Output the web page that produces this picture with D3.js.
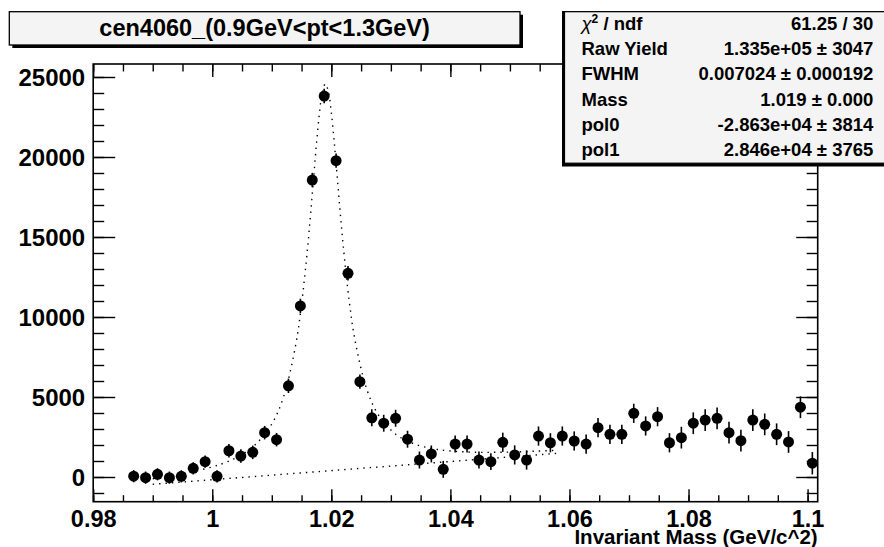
<!DOCTYPE html>
<html>
<head>
<meta charset="utf-8">
<script src="https://cdn.jsdelivr.net/npm/d3@7"></script>
<style>
body { margin: 0; background: #fff; }
text { font-family: "Liberation Sans", Arial, Helvetica, sans-serif; font-weight: bold; fill: #000; }
</style>
</head>
<body>
<script>
// histogram points (bin centre, counts, error)
var mass = [0.9868, 0.9888, 0.9908, 0.9928, 0.9948, 0.9968, 0.9988, 1.0008, 1.0028, 1.0048,
  1.0068, 1.0088, 1.0108, 1.0128, 1.0148, 1.0168, 1.0188, 1.0208, 1.0228, 1.0248,
  1.0268, 1.0288, 1.0308, 1.0328, 1.0348, 1.0368, 1.0388, 1.0408, 1.0428, 1.0448,
  1.0468, 1.0488, 1.0508, 1.0528, 1.0548, 1.0568, 1.0588, 1.0608, 1.0628, 1.0648,
  1.0668, 1.0688, 1.0708, 1.0728, 1.0748, 1.0768, 1.0788, 1.0808, 1.0828, 1.0848,
  1.0868, 1.0888, 1.0908, 1.0928, 1.0948, 1.0968, 1.0988, 1.1008];
var counts = [50, -40, 170, -40, 40, 540, 960, 40, 1640, 1310,
  1540, 2770, 2330, 5700, 10690, 18560, 23810, 19770, 12730, 5960,
  3700, 3360, 3670, 2360, 1060, 1440, 480, 2060, 2060, 1060,
  960, 2170, 1380, 1060, 2560, 2140, 2560, 2250, 2060, 3080,
  2670, 2670, 3980, 3190, 3770, 2140, 2460, 3360, 3560, 3670,
  2770, 2270, 3560, 3290, 2670, 2190, 4360, 860];
var errs = [380, 380, 380, 380, 380, 380, 380, 380, 420, 420,
  420, 420, 420, 450, 450, 450, 450, 450, 450, 450,
  530, 530, 530, 530, 530, 530, 530, 530, 530, 530,
  530, 600, 600, 600, 600, 600, 600, 600, 600, 600,
  600, 600, 600, 600, 600, 600, 680, 680, 680, 680,
  680, 680, 680, 680, 680, 680, 680, 700];

// fit curve
var fitMass = [0.990, 0.995, 1.000, 1.002, 1.004, 1.007, 1.010, 1.012, 1.014, 1.015,
  1.016, 1.0165, 1.017, 1.0175, 1.018, 1.0185, 1.019, 1.0195, 1.020, 1.0205,
  1.021, 1.0215, 1.022, 1.023, 1.024, 1.026, 1.028, 1.031, 1.034, 1.038,
  1.043, 1.048, 1.054, 1.058];
var fitTotal = [-106, 195, 630, 878, 1202, 1939, 3313, 5038, 8224, 10792,
  14276, 16361, 18587, 20794, 22727, 24076, 24571, 24104, 22784, 20879,
  18701, 16503, 14447, 11020, 8509, 5437, 3825, 2621, 2056, 1711,
  1561, 1546, 1608, 1675];
var bkgMass = [0.990, 1.058];
var bkgVals = [-455, 1481];

var xTicks = [0.98, 1, 1.02, 1.04, 1.06, 1.08, 1.1];
var xTickLabels = ["0.98", "1", "1.02", "1.04", "1.06", "1.08", "1.1"];
var yTicks = [0, 5000, 10000, 15000, 20000, 25000];

var title = "cen4060_(0.9GeV<pt<1.3GeV)";
var xTitle = "Invariant Mass (GeV/c^2)";
var statNames = ["χ2 / ndf", "Raw Yield", "FWHM", "Mass", "pol0", "pol1"];
var statValues = ["61.25 / 30", "1.335e+05 ± 3047", "0.007024 ± 0.000192",
  "1.019 ± 0.000", "-2.863e+04 ± 3814", "2.846e+04 ± 3765"];

var W = 884, H = 547;
var frameL = 93.2, frameR = 817.7, frameT = 64, frameB = 501.7;

var x = d3.scaleLinear().domain([0.98, 1.1017]).range([frameL, frameR]);
var y = d3.scaleLinear().domain([-1544, 25812]).range([frameB, frameT]);

var svg = d3.select("body").append("svg")
  .attr("width", W)
  .attr("height", H);

// frame
svg.append("rect")
  .attr("x", frameL).attr("y", frameT)
  .attr("width", frameR - frameL).attr("height", frameB - frameT)
  .attr("fill", "none").attr("stroke", "#000").attr("stroke-width", 1.6);

var xMinor = d3.range(0.98, 1.1017, 0.005);
var yMinor = d3.range(-1000, 25812, 1000);

function styleAxis(g) {
  g.select(".domain").remove();
  g.selectAll("line").attr("stroke", "#000").attr("stroke-width", 1.4);
}

// bottom axis
svg.append("g").attr("transform", "translate(0," + frameB + ")")
  .call(d3.axisBottom(x).tickValues(xMinor).tickFormat("").tickSize(-6.5))
  .call(styleAxis);
svg.append("g").attr("transform", "translate(0," + frameB + ")")
  .call(d3.axisBottom(x).tickValues(xTicks).tickSize(-12.5).tickPadding(8)
    .tickFormat(function(d, i) { return xTickLabels[i]; }))
  .call(styleAxis)
  .call(function(g) {
    g.selectAll("text").attr("font-size", 23.5).attr("dy", null).attr("y", 25.5);
  });

// top axis
svg.append("g").attr("transform", "translate(0," + frameT + ")")
  .call(d3.axisTop(x).tickValues(xMinor).tickFormat("").tickSize(-7.5))
  .call(styleAxis);
svg.append("g").attr("transform", "translate(0," + frameT + ")")
  .call(d3.axisTop(x).tickValues(xTicks).tickFormat("").tickSize(-13))
  .call(styleAxis);

// left axis
svg.append("g").attr("transform", "translate(" + frameL + ",0)")
  .call(d3.axisLeft(y).tickValues(yMinor).tickFormat("").tickSize(-11))
  .call(styleAxis);
svg.append("g").attr("transform", "translate(" + frameL + ",0)")
  .call(d3.axisLeft(y).tickValues(yTicks).tickSize(-22).tickPadding(8)
    .tickFormat(d3.format("d")))
  .call(styleAxis)
  .call(function(g) {
    g.selectAll("text").attr("font-size", 24).attr("x", -8).attr("dy", "0.36em");
  });

// right axis
svg.append("g").attr("transform", "translate(" + frameR + ",0)")
  .call(d3.axisRight(y).tickValues(yMinor).tickFormat("").tickSize(-11))
  .call(styleAxis);
svg.append("g").attr("transform", "translate(" + frameR + ",0)")
  .call(d3.axisRight(y).tickValues(yTicks).tickFormat("").tickSize(-21.5))
  .call(styleAxis);

// x axis title
svg.append("text")
  .attr("x", frameR).attr("y", 543.5)
  .attr("text-anchor", "end")
  .attr("font-size", 20.5)
  .text(xTitle);

// fit curves (dotted)
var line = d3.line()
  .x(function(d) { return x(d[0]); })
  .y(function(d) { return y(d[1]); })
  .curve(d3.curveCatmullRom);

svg.append("path")
  .datum(bkgMass.map(function(m, i) { return [m, bkgVals[i]]; }))
  .attr("d", line)
  .attr("fill", "none").attr("stroke", "#000")
  .attr("stroke-width", 1.4).attr("stroke-dasharray", "1.4,5");

svg.append("path")
  .datum(fitMass.map(function(m, i) { return [m, fitTotal[i]]; }))
  .attr("d", line)
  .attr("fill", "none").attr("stroke", "#000")
  .attr("stroke-width", 1.4).attr("stroke-dasharray", "1.4,5");

// data points with error bars
var pts = svg.append("g").selectAll("g")
  .data(mass.map(function(m, i) { return { m: m, c: counts[i], e: errs[i] }; }))
  .enter().append("g");

pts.append("line")
  .attr("x1", function(d) { return x(d.m); })
  .attr("x2", function(d) { return x(d.m); })
  .attr("y1", function(d) { return y(d.c - d.e); })
  .attr("y2", function(d) { return y(d.c + d.e); })
  .attr("stroke", "#000").attr("stroke-width", 1.6);

pts.append("circle")
  .attr("cx", function(d) { return x(d.m); })
  .attr("cy", function(d) { return y(d.c); })
  .attr("r", 5.5)
  .attr("fill", "#000");

// title box
svg.append("rect")
  .attr("x", 12.3).attr("y", 14.7).attr("width", 510.7).attr("height", 33.3)
  .attr("fill", "#000");
svg.append("rect")
  .attr("x", 9.3).attr("y", 11.7).attr("width", 510.7).attr("height", 33.3)
  .attr("fill", "#f4f4f4").attr("stroke", "#000").attr("stroke-width", 1.3);
svg.append("text")
  .attr("x", 264.6).attr("y", 36)
  .attr("text-anchor", "middle")
  .attr("font-size", 23.5)
  .text(title);

// stats box
svg.append("rect")
  .attr("x", 562).attr("y", 11).attr("width", 340).attr("height", 155.5)
  .attr("fill", "#000");
svg.append("rect")
  .attr("x", 564.5).attr("y", 11.7).attr("width", 340).attr("height", 151.5)
  .attr("fill", "#f4f4f4").attr("stroke", "#000").attr("stroke-width", 1.2);

var rows = svg.append("g").selectAll("g")
  .data(statNames)
  .enter().append("g")
  .attr("transform", function(d, i) { return "translate(0," + (30 + 25.2 * i) + ")"; });

rows.append("text")
  .attr("x", 581.5)
  .attr("font-size", 18.5)
  .each(function(d) {
    var t = d3.select(this);
    if (d.indexOf("χ2") === 0) {
      t.append("tspan").attr("font-weight", "normal").attr("font-style", "italic").text("χ");
      t.append("tspan").attr("font-size", 12).attr("dy", -7).text("2");
      t.append("tspan").attr("dy", 7).text(" / ndf");
    } else {
      t.text(d);
    }
  });

rows.append("text")
  .attr("x", 873.3)
  .attr("text-anchor", "end")
  .attr("font-size", 18.5)
  .text(function(d, i) { return statValues[i]; });
</script>
</body>
</html>
